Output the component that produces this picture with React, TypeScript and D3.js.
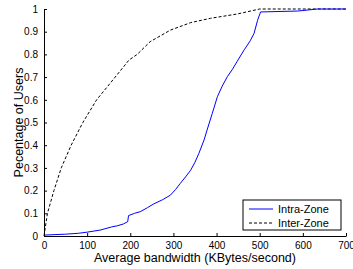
import React, { useEffect, useRef } from 'react';
import * as d3 from 'd3';

// bandwidth (KBytes/second) vs cumulative fraction of users
const intraX = [0, 50, 80, 100, 130, 157, 170, 184, 194, 196, 210, 223, 240, 254, 275, 293, 305, 316, 328, 340, 350, 359, 371, 378, 390, 402, 413, 425, 437, 448, 464, 478, 487, 495, 502, 588, 634, 700];
const intraY = [0.004, 0.008, 0.012, 0.017, 0.026, 0.04, 0.045, 0.053, 0.063, 0.09, 0.1, 0.107, 0.125, 0.141, 0.16, 0.18, 0.205, 0.232, 0.26, 0.29, 0.325, 0.364, 0.423, 0.467, 0.54, 0.614, 0.66, 0.702, 0.735, 0.77, 0.82, 0.86, 0.893, 0.95, 0.987, 0.991, 1, 1];

const interX = [0, 8, 23, 40, 63, 90, 122, 165, 197, 216, 246, 293, 340, 386, 448, 500, 700];
const interY = [0, 0.1, 0.2, 0.3, 0.4, 0.5, 0.6, 0.7, 0.775, 0.8, 0.856, 0.907, 0.94, 0.959, 0.978, 1, 1];

const xTicks = [0, 100, 200, 300, 400, 500, 600, 700];
const yTicks = [0, 0.1, 0.2, 0.3, 0.4, 0.5, 0.6, 0.7, 0.8, 0.9, 1];

const seriesNames = ['Intra-Zone', 'Inter-Zone'];

const W = 353;
const H = 269;
const margin = { left: 44, right: 7, top: 9, bottom: 33 };
const font = 'Liberation Sans, Arial, Helvetica, sans-serif';

export default function App() {
  const ref = useRef<SVGSVGElement>(null);

  useEffect(() => {
    const svg = d3.select(ref.current);
    svg.selectAll('*').remove();

    const x = d3.scaleLinear().domain([0, 700]).range([margin.left, W - margin.right]);
    const y = d3.scaleLinear().domain([0, 1]).range([H - margin.bottom, margin.top]);

    const line = d3.line<[number, number]>().x(d => x(d[0])).y(d => y(d[1]));

    svg.append('path')
      .datum(interX.map((v, i) => [v, interY[i]] as [number, number]))
      .attr('fill', 'none')
      .attr('stroke', '#000')
      .attr('stroke-width', 1)
      .attr('stroke-dasharray', '3,2')
      .attr('d', line);

    svg.append('path')
      .datum(intraX.map((v, i) => [v, intraY[i]] as [number, number]))
      .attr('fill', 'none')
      .attr('stroke', '#0000ff')
      .attr('stroke-width', 1)
      .attr('d', line);

    // x axis, ticks pointing inward
    const gx = svg.append('g')
      .attr('transform', `translate(0,${H - margin.bottom})`)
      .call(d3.axisBottom(x).tickValues(xTicks).tickSize(-3).tickSizeOuter(0).tickPadding(6));
    gx.selectAll('text').attr('font-size', 10).attr('font-family', font).attr('fill', '#000');

    const gy = svg.append('g')
      .attr('transform', `translate(${margin.left},0)`)
      .call(d3.axisLeft(y).tickValues(yTicks).tickFormat(d => `${+(+d).toFixed(1)}`).tickSize(-3).tickSizeOuter(0).tickPadding(6));
    gy.selectAll('text').attr('font-size', 10).attr('font-family', font).attr('fill', '#000');

    svg.selectAll('.domain').attr('stroke', '#000');
    svg.selectAll('.tick line').attr('stroke', '#000');

    svg.append('text')
      .attr('x', 195)
      .attr('y', 262)
      .attr('text-anchor', 'middle')
      .attr('font-size', 12.5)
      .attr('font-family', font)
      .text('Average bandwidth (KBytes/second)');

    svg.append('text')
      .attr('transform', `translate(23,${(margin.top + H - margin.bottom) / 2}) rotate(-90)`)
      .attr('text-anchor', 'middle')
      .attr('font-size', 12.5)
      .attr('font-family', font)
      .text('Pecentage of Users');

    // legend
    const lg = svg.append('g');
    lg.append('rect')
      .attr('x', 243).attr('y', 200).attr('width', 98).attr('height', 30)
      .attr('fill', '#fff').attr('stroke', '#000').attr('stroke-width', 1);
    seriesNames.forEach((name, i) => {
      const cy = 209 + i * 14;
      lg.append('line')
        .attr('x1', 249).attr('x2', 273).attr('y1', cy).attr('y2', cy)
        .attr('stroke', i === 0 ? '#0000ff' : '#000')
        .attr('stroke-dasharray', i === 0 ? null : '3,2');
      lg.append('text')
        .attr('x', 278).attr('y', cy + 4)
        .attr('font-size', 11)
        .attr('font-family', font)
        .text(name);
    });
  }, []);

  return (
    <svg ref={ref} width={W} height={H} style={{ position: 'absolute', left: 0, top: 0, background: '#fff' }} />
  );
}
